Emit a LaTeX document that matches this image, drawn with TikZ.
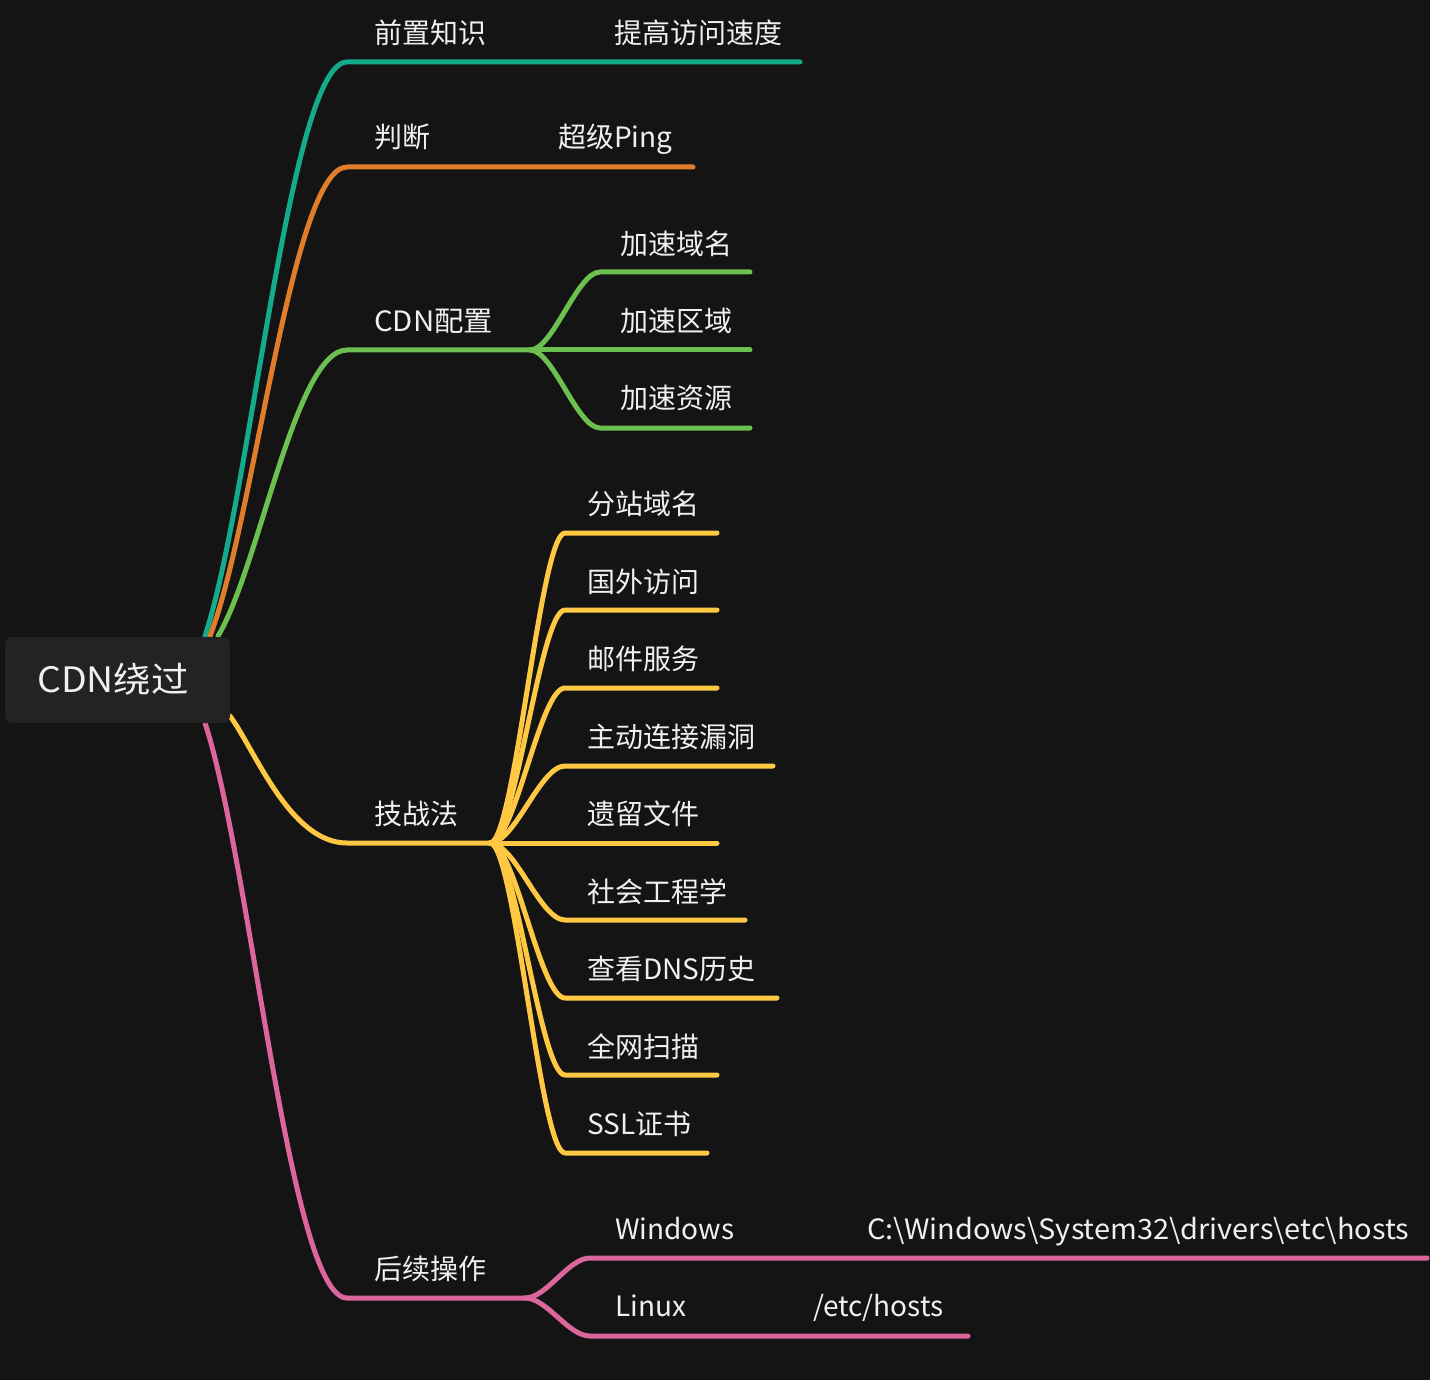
\documentclass[tikz,border=0pt]{standalone}
\usepackage{fontspec}
\setmainfont{Noto Sans CJK SC}
\definecolor{bgc}{HTML}{141414}
\definecolor{rootc}{HTML}{232323}
\definecolor{txtc}{HTML}{F0F0F0}
\definecolor{tealc}{HTML}{14AA8C}
\definecolor{orangec}{HTML}{E07D2A}
\definecolor{greenc}{HTML}{6CC050}
\definecolor{yellowc}{HTML}{FFC843}
\definecolor{pinkc}{HTML}{DC659B}
\begin{document}
\begin{tikzpicture}[x=1pt,y=-1pt,
  lbl/.style={anchor=base west, text=txtc, font=\fontsize{28}{34}\selectfont, inner sep=0pt},
  br/.style={line width=5pt, line cap=round, line join=round},
  rootbox/.style={fill=rootc, rounded corners=7pt, minimum width=225pt, minimum height=86pt, inner sep=0pt},
]
\fill[bgc] (0,0) rectangle (1430,1380);
\useasboundingbox (0,0) rectangle (1430,1380);

% junction coordinates
\coordinate (tS) at (205,636);   \coordinate (tE) at (347,62);   \coordinate (tT) at (800,62);
\coordinate (oS) at (210,636);   \coordinate (oE) at (347,167);  \coordinate (oT) at (693,167);
\coordinate (gS) at (218,636);   \coordinate (gE) at (347,350);  \coordinate (gO) at (530,350);
\coordinate (yS) at (230,716);   \coordinate (yE) at (347,843);  \coordinate (yO) at (490,843);
\coordinate (pS) at (205,723);   \coordinate (pE) at (347,1298); \coordinate (pO) at (525,1298);

% root branches
\draw[br, tealc]   (tS) .. controls (250.4,498.2) and (290.2,62) .. (tE) -- (tT);
\draw[br, orangec] (oS) .. controls (253.8,523.4) and (292.2,167) .. (oE) -- (oT);
\draw[br, greenc]  (gS) .. controls (259.3,567.4) and (295.4,350) .. (gE) -- (gO);
\draw[br, yellowc] (yS) .. controls (255,750) and (290,843) .. (yE) -- (yO);
\draw[br, pinkc]   (pS) .. controls (250.4,861) and (290.2,1298) .. (pE) -- (pO);

% green children
\coordinate (g1) at (600,272); \coordinate (g1e) at (750,272);
\coordinate (g2e) at (750,350);
\coordinate (g3) at (600,428); \coordinate (g3e) at (750,428);
\draw[br, greenc] (gO) .. controls (553,350) and (577,272) .. (g1) -- (g1e);
\draw[br, greenc] (gO) -- (g2e);
\draw[br, greenc] (gO) .. controls (553,350) and (577,428) .. (g3) -- (g3e);

% yellow children
\foreach \i/\yy/\xe in {1/533/717, 2/610/717, 3/688/717, 4/766/773, 5/843/717, 6/920/745, 7/998/777, 8/1075/717, 9/1153/707}{
  \coordinate (y\i) at (565,\yy);
  \coordinate (y\i e) at (\xe,\yy);
  \draw[br, yellowc] (yO) .. controls (515,843) and (540,\yy) .. (y\i) -- (y\i e);
}

% pink children
\coordinate (p1) at (590,1258); \coordinate (p1e) at (1427,1258);
\coordinate (p2) at (590,1336); \coordinate (p2e) at (968,1336);
\draw[br, pinkc] (pO) .. controls (547,1298) and (568,1258) .. (p1) -- (p1e);
\draw[br, pinkc] (pO) .. controls (547,1298) and (568,1336) .. (p2) -- (p2e);

% root
\node[rootbox] (root) at (117.5,680) {};
\node[anchor=base west, text=txtc, font=\fontsize{35}{40}\selectfont, inner sep=0pt, xscale=1.07] (rootlbl) at (37,692) {CDN绕过};

% labels
\node[lbl] (l1)  at (374,43.5)  {前置知识};
\node[lbl] (l1a) at (614,43.5)  {提高访问速度};
\node[lbl] (l2)  at (374,148)   {判断};
\node[lbl] (l2a) at (558,148)   {超级Ping};
\node[lbl, xscale=1.05] (l3)  at (374,331)   {CDN配置};
\node[lbl] (l3a) at (620,254.5) {加速域名};
\node[lbl] (l3b) at (620,331)   {加速区域};
\node[lbl] (l3c) at (620,408.5) {加速资源};
\node[lbl] (l4)  at (374,824)   {技战法};
\node[lbl] (l4a) at (587,514.5) {分站域名};
\node[lbl] (l4b) at (587,592)   {国外访问};
\node[lbl] (l4c) at (587,669.5) {邮件服务};
\node[lbl] (l4d) at (587,747)   {主动连接漏洞};
\node[lbl] (l4e) at (587,824.5) {遗留文件};
\node[lbl] (l4f) at (587,902)   {社会工程学};
\node[lbl] (l4g) at (587,979.5) {查看DNS历史};
\node[lbl] (l4h) at (587,1057)  {全网扫描};
\node[lbl] (l4i) at (587,1134.5){SSL证书};
\node[lbl] (l5)  at (374,1279)  {后续操作};
\node[lbl] (l5a) at (615,1239)  {Windows};
\node[lbl, xscale=1.034] (l5b) at (867,1239)  {C:\textbackslash Windows\textbackslash System32\textbackslash drivers\textbackslash etc\textbackslash hosts};
\node[lbl] (l5c) at (615,1316)  {Linux};
\node[lbl] (l5d) at (813,1316)  {/etc/hosts};
\end{tikzpicture}
\end{document}
